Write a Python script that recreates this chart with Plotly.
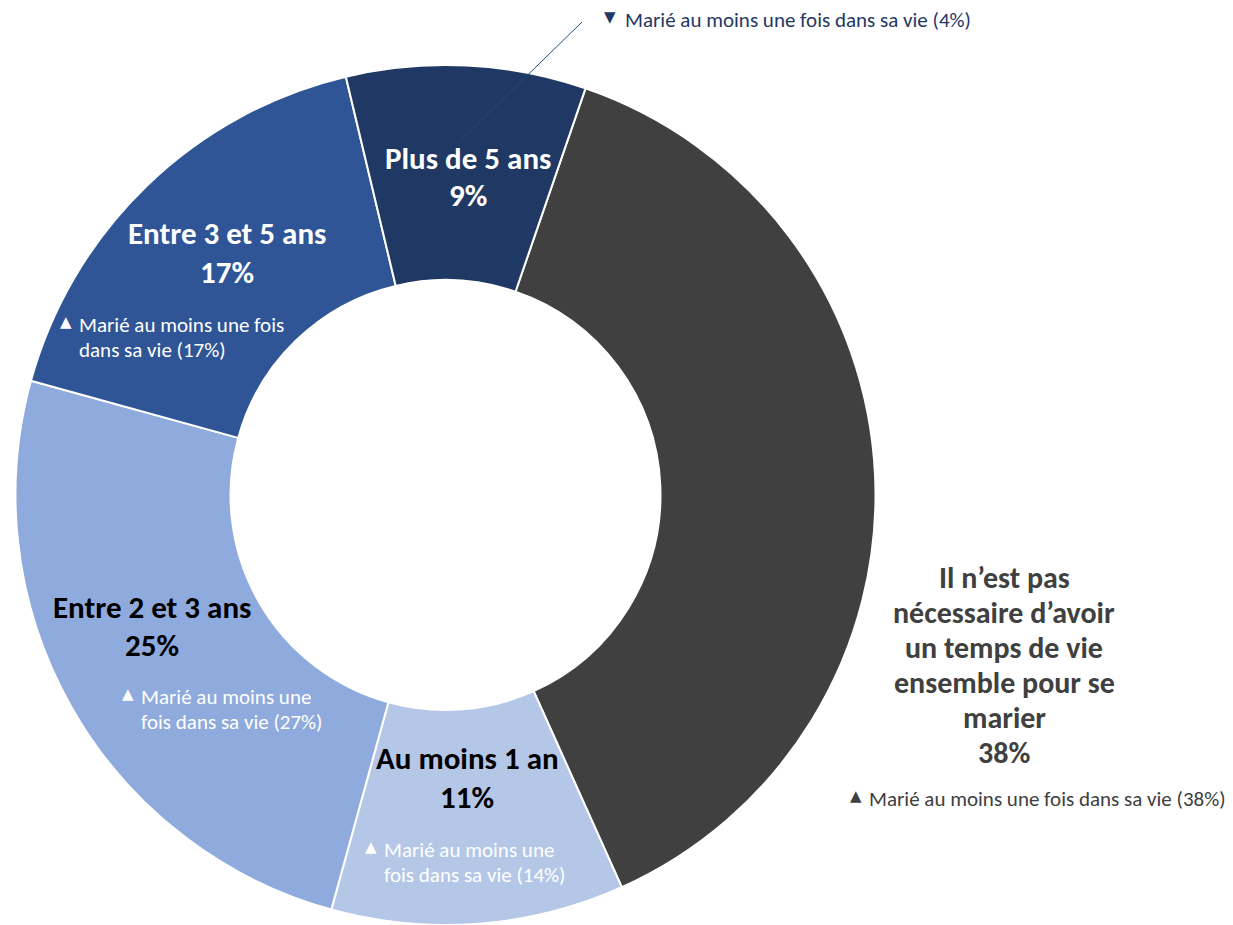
import plotly.graph_objects as go

# ---- data ----
categories = [
    "Il n’est pas nécessaire d’avoir un temps de vie ensemble pour se marier",
    "Au moins 1 an",
    "Entre 2 et 3 ans",
    "Entre 3 et 5 ans",
    "Plus de 5 ans",
]
shares = [38, 11, 25, 17, 9]
married_shares = [38, 14, 27, 17, 4]
married_trend = ["▲", "▲", "▲", "▲", "▼"]
slice_colors = ["#404040", "#B4C7E7", "#8FAADC", "#2F5597", "#1F3864"]

W, H = 1233, 925
FONT = "Carlito, Calibri, Lato, sans-serif"


def px(x, y):
    return x / W, 1 - y / H


fig = go.Figure(
    go.Pie(
        labels=categories,
        values=shares,
        sort=False,
        direction="clockwise",
        rotation=19,
        hole=0.5,
        marker=dict(colors=slice_colors, line=dict(color="white", width=2)),
        textinfo="none",
        hoverinfo="skip",
        showlegend=False,
        domain=dict(x=[14 / W, 877 / W], y=[0, 860 / H]),
    )
)

annotations = []


def add_text(x, y, text, size, color, bold=False, xanchor="center", align="center", family=FONT):
    ax, ay = px(x, y)
    annotations.append(
        dict(
            x=ax, y=ay, xref="paper", yref="paper",
            text=f"<b>{text}</b>" if bold else text,
            showarrow=False, xanchor=xanchor, yanchor="middle", align=align,
            font=dict(family=family, size=size, color=color),
        )
    )


SMALL = 21

# main labels (category + share)
main_label_lines = [
    ["Il n’est pas", "nécessaire d’avoir", "un temps de vie", "ensemble pour se", "marier"],
    ["Au moins 1 an"],
    ["Entre 2 et 3 ans"],
    ["Entre 3 et 5 ans"],
    ["Plus de 5 ans"],
]
# (center x, first line y, line step, font size)
main_pos = [(1004, 577, 35, 30), (467, 758, 39, 31), (152, 607, 38, 31), (227, 233, 39, 31), (468, 158, 37, 31)]
main_colors = ["#404040", "#000000", "#000000", "#FFFFFF", "#FFFFFF"]

for lines, share, (cx, cy, lh, fs), col in zip(main_label_lines, shares, main_pos, main_colors):
    for i, ln in enumerate(lines + [f"{share}%"]):
        add_text(cx, cy + i * lh, ln, fs, col, bold=True)

# sub annotations (married at least once)
sub_lines = [
    ["Marié au moins une fois dans sa vie ({})"],
    ["Marié au moins une", "fois dans sa vie ({})"],
    ["Marié au moins une", "fois dans sa vie ({})"],
    ["Marié au moins une fois", "dans sa vie ({})"],
    ["Marié au moins une fois dans sa vie ({})"],
]
# (triangle x, text left x, first line y)
sub_pos = [(856, 867, 799), (371, 382, 850), (128, 139, 697), (66, 77, 325), (610, 623, 20)]
sub_colors = ["#404040", "#FFFFFF", "#FFFFFF", "#FFFFFF", "#1F3864"]

for lines, val, trend, (tx, lx, y0), col in zip(sub_lines, married_shares, married_trend, sub_pos, sub_colors):
    add_text(tx, y0 - 3, trend, 15, col, family="DejaVu Sans")
    for i, ln in enumerate(lines):
        t = ln.format(f"{val}%") if "{}" in ln else ln
        add_text(lx, y0 + i * 25, t, SMALL, col, xanchor="left", align="left")

# leader line from "Plus de 5 ans" to top note
x0, y0 = px(462, 139)
x1, y1 = px(582, 22)
shapes = [
    dict(type="line", xref="paper", yref="paper", x0=x0, y0=y0, x1=x1, y1=y1,
         line=dict(color="#1F4E79", width=1))
]

fig.update_layout(
    width=W, height=H,
    margin=dict(l=0, r=0, t=0, b=0),
    paper_bgcolor="white", plot_bgcolor="white",
    annotations=annotations,
    shapes=shapes,
)

fig.write_html(
    "out.html",
    config={"displayModeBar": False},
    post_script="document.body.style.margin='0';document.body.style.overflow='hidden';",
)
